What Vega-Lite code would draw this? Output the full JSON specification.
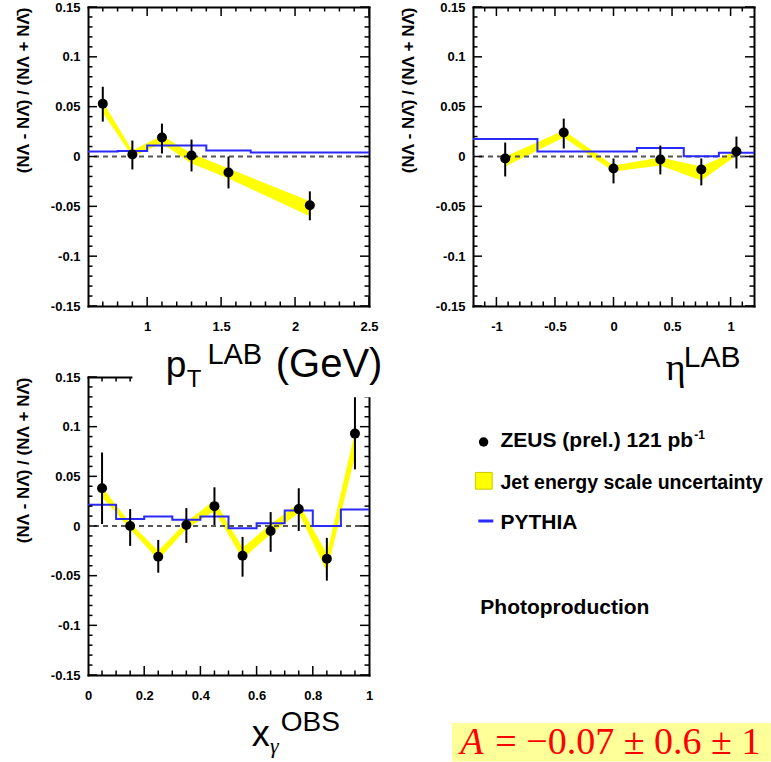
{
  "$schema": "https://vega.github.io/schema/vega-lite/v6.json",
  "autosize": {"type": "pad"},
  "padding": 0,
  "background": "white",
  "bounds": "flush",
  "columns": 2,
  "spacing": {"row": 71, "column": 104},
  "config": {
    "view": {"stroke": null},
    "axis": {
      "domain": true, "domainColor": "#000", "domainWidth": 2, "domainCap": "square",
      "ticks": false, "grid": false, "labels": false, "title": null,
      "labelFont": "Liberation Sans", "labelFontSize": 13, "labelFontWeight": "bold", "labelColor": "#000",
      "labelFlush": false, "labelOverlap": false, "labelBound": false,
      "titleFont": "Liberation Sans", "titleFontSize": 17, "titleFontWeight": "bold", "titleColor": "#000",
      "zindex": 0
    }
  },
  "datasets": {
    "pt": [
      {"pt": 0.7, "a": 0.053, "lo": 0.035, "hi": 0.070, "blo": 0.044, "bhi": 0.055},
      {"pt": 0.9, "a": 0.002, "lo": -0.013, "hi": 0.016, "blo": 0.000, "bhi": 0.006},
      {"pt": 1.1, "a": 0.019, "lo": 0.003, "hi": 0.033, "blo": 0.013, "bhi": 0.021},
      {"pt": 1.3, "a": 0.001, "lo": -0.015, "hi": 0.017, "blo": -0.007, "bhi": 0.003},
      {"pt": 1.55, "a": -0.016, "lo": -0.032, "hi": 0.000, "blo": -0.022, "bhi": -0.012},
      {"pt": 2.1, "a": -0.049, "lo": -0.064, "hi": -0.035, "blo": -0.060, "bhi": -0.045}
    ],
    "pt_mc": [
      {"edge": 0.6, "a": 0.005},
      {"edge": 0.8, "a": 0.0055},
      {"edge": 1.0, "a": 0.011},
      {"edge": 1.2, "a": 0.011},
      {"edge": 1.4, "a": 0.006},
      {"edge": 1.7, "a": 0.004},
      {"edge": 2.5, "a": 0.004}
    ],
    "eta": [
      {"eta": -0.925, "a": -0.002, "lo": -0.020, "hi": 0.014, "blo": -0.010, "bhi": 0.000},
      {"eta": -0.425, "a": 0.024, "lo": 0.008, "hi": 0.038, "blo": 0.019, "bhi": 0.026},
      {"eta": 0.0, "a": -0.012, "lo": -0.027, "hi": -0.002, "blo": -0.015, "bhi": -0.009},
      {"eta": 0.4, "a": -0.003, "lo": -0.018, "hi": 0.011, "blo": -0.009, "bhi": -0.001},
      {"eta": 0.75, "a": -0.013, "lo": -0.029, "hi": -0.002, "blo": -0.024, "bhi": -0.010},
      {"eta": 1.05, "a": 0.005, "lo": -0.012, "hi": 0.020, "blo": 0.001, "bhi": 0.006}
    ],
    "eta_mc": [
      {"edge": -1.2, "a": 0.0175},
      {"edge": -0.65, "a": 0.005},
      {"edge": -0.2, "a": 0.005},
      {"edge": 0.2, "a": 0.0085},
      {"edge": 0.6, "a": 0.0003},
      {"edge": 0.9, "a": 0.0037},
      {"edge": 1.2, "a": 0.0037}
    ],
    "xg": [
      {"xg": 0.05, "a": 0.038, "lo": 0.002, "hi": 0.074, "blo": 0.029, "bhi": 0.039},
      {"xg": 0.15, "a": 0.000, "lo": -0.020, "hi": 0.017, "blo": -0.003, "bhi": 0.003},
      {"xg": 0.25, "a": -0.031, "lo": -0.047, "hi": -0.014, "blo": -0.034, "bhi": -0.025},
      {"xg": 0.35, "a": 0.001, "lo": -0.017, "hi": 0.018, "blo": -0.003, "bhi": 0.004},
      {"xg": 0.45, "a": 0.020, "lo": 0.001, "hi": 0.039, "blo": 0.015, "bhi": 0.026},
      {"xg": 0.55, "a": -0.030, "lo": -0.051, "hi": -0.011, "blo": -0.033, "bhi": -0.022},
      {"xg": 0.65, "a": -0.005, "lo": -0.026, "hi": 0.014, "blo": -0.008, "bhi": 0.002},
      {"xg": 0.75, "a": 0.017, "lo": -0.005, "hi": 0.038, "blo": 0.013, "bhi": 0.023},
      {"xg": 0.85, "a": -0.033, "lo": -0.055, "hi": -0.012, "blo": -0.046, "bhi": -0.028},
      {"xg": 0.95, "a": 0.093, "lo": 0.057, "hi": 0.131, "blo": 0.070, "bhi": 0.095}
    ],
    "xg_mc": [
      {"edge": 0.0, "a": 0.0215},
      {"edge": 0.1, "a": 0.007},
      {"edge": 0.2, "a": 0.0095},
      {"edge": 0.3, "a": 0.0062},
      {"edge": 0.4, "a": 0.0095},
      {"edge": 0.5, "a": -0.0023},
      {"edge": 0.6, "a": 0.0028},
      {"edge": 0.7, "a": 0.0156},
      {"edge": 0.8, "a": 0.0},
      {"edge": 0.9, "a": 0.0166},
      {"edge": 1.0, "a": 0.0166}
    ],
    "y_major": [{"v": -0.15}, {"v": -0.1}, {"v": -0.05}, {"v": 0}, {"v": 0.05}, {"v": 0.1}, {"v": 0.15}],
    "y_minor": [
      {"v": -0.14}, {"v": -0.13}, {"v": -0.12}, {"v": -0.11}, {"v": -0.09}, {"v": -0.08}, {"v": -0.07}, {"v": -0.06},
      {"v": -0.04}, {"v": -0.03}, {"v": -0.02}, {"v": -0.01}, {"v": 0.01}, {"v": 0.02}, {"v": 0.03}, {"v": 0.04},
      {"v": 0.06}, {"v": 0.07}, {"v": 0.08}, {"v": 0.09}, {"v": 0.11}, {"v": 0.12}, {"v": 0.13}, {"v": 0.14}
    ],
    "pt_major": [{"v": 1}, {"v": 1.5}, {"v": 2}, {"v": 2.5}],
    "pt_minor": [
      {"v": 0.7}, {"v": 0.8}, {"v": 0.9}, {"v": 1.1}, {"v": 1.2}, {"v": 1.3}, {"v": 1.4}, {"v": 1.6},
      {"v": 1.7}, {"v": 1.8}, {"v": 1.9}, {"v": 2.1}, {"v": 2.2}, {"v": 2.3}, {"v": 2.4}
    ],
    "eta_major": [{"v": -1}, {"v": -0.5}, {"v": 0}, {"v": 0.5}, {"v": 1}],
    "eta_minor": [
      {"v": -1.1}, {"v": -0.9}, {"v": -0.8}, {"v": -0.7}, {"v": -0.6}, {"v": -0.4}, {"v": -0.3}, {"v": -0.2},
      {"v": -0.1}, {"v": 0.1}, {"v": 0.2}, {"v": 0.3}, {"v": 0.4}, {"v": 0.6}, {"v": 0.7}, {"v": 0.8}, {"v": 0.9}, {"v": 1.1}
    ],
    "xg_major": [{"v": 0.2}, {"v": 0.4}, {"v": 0.6}, {"v": 0.8}],
    "xg_minor": [
      {"v": 0.05}, {"v": 0.1}, {"v": 0.15}, {"v": 0.25}, {"v": 0.3}, {"v": 0.35}, {"v": 0.45}, {"v": 0.5},
      {"v": 0.55}, {"v": 0.65}, {"v": 0.7}, {"v": 0.75}, {"v": 0.85}, {"v": 0.9}, {"v": 0.95}
    ]
  },
  "concat": [
    {
      "width": 281, "height": 299,
      "resolve": {"axis": {"x": "independent", "y": "independent"}},
      "layer": [
        {
          "data": {"values": [{}]},
          "mark": {"type": "rect", "opacity": 0},
          "encoding": {
            "x": {"datum": 0.01174, "type": "quantitative", "scale": {"domain": [0.6, 2.5], "nice": false, "zero": false}, "axis": null},
            "x2": {"datum": 0.02},
            "y": {"datum": 0.15702, "type": "quantitative", "scale": {"domain": [-0.15, 0.15], "nice": false, "zero": false}, "axis": null},
            "y2": {"datum": 0.155}
          }
        },
        {
          "data": {"name": "pt"},
          "mark": {"type": "area", "color": "#ffff00", "opacity": 1},
          "encoding": {
            "x": {"field": "pt", "type": "quantitative", "axis": null},
            "y": {"field": "blo", "type": "quantitative", "axis": null},
            "y2": {"field": "bhi"}
          }
        },
        {
          "data": {"values": [{}]},
          "mark": {"type": "rule", "color": "#555555", "strokeWidth": 2, "strokeDash": [5, 4]},
          "encoding": {"y": {"datum": 0, "type": "quantitative", "axis": null}}
        },
        {
          "data": {"name": "pt_mc"},
          "mark": {"type": "line", "interpolate": "step-after", "color": "#2a2aff", "strokeWidth": 2},
          "encoding": {
            "x": {"field": "edge", "type": "quantitative", "axis": null},
            "y": {"field": "a", "type": "quantitative", "axis": null}
          }
        },
        {
          "data": {"name": "pt"},
          "mark": {"type": "rule", "color": "#000", "strokeWidth": 2},
          "encoding": {
            "x": {"field": "pt", "type": "quantitative", "axis": null},
            "y": {"field": "lo", "type": "quantitative", "axis": null},
            "y2": {"field": "hi"}
          }
        },
        {
          "data": {"name": "pt"},
          "mark": {"type": "circle", "color": "#000", "size": 100, "opacity": 1},
          "encoding": {
            "x": {"field": "pt", "type": "quantitative",
              "axis": {"orient": "bottom", "values": [1, 1.5, 2, 2.5], "labels": true,
                "labelExpr": "replace(format(datum.value, ''), '\u2212', '-')", "labelPadding": 14}},
            "y": {"field": "a", "type": "quantitative",
              "axis": {"orient": "left", "values": [-0.15,-0.1,-0.05,0,0.05,0.1,0.15], "labels": true,
                "labelExpr": "replace(format(datum.value, ''), '\u2212', '-')", "labelPadding": 8,
                "title": "(N\u039b - N\u039b\u0304) / (N\u039b + N\u039b\u0304)", "titleAnchor": "end", "titlePadding": 18}}
          }
        },
        {
          "data": {"name": "pt"},
          "mark": {"type": "point", "opacity": 0},
          "encoding": {
            "x": {"field": "pt", "type": "quantitative", "axis": {"orient": "top"}},
            "y": {"field": "a", "type": "quantitative", "axis": {"orient": "right"}}
          }
        },
        {
          "data": {"name": "y_major"},
          "mark": {"type": "rule", "color": "#000", "strokeWidth": 1.5},
          "encoding": {
            "y": {"field": "v", "type": "quantitative", "axis": null},
            "x": {"datum": 0.6, "type": "quantitative", "axis": null},
            "x2": {"datum": 0.6609}
          }
        },
        {
          "data": {"name": "y_minor"},
          "mark": {"type": "rule", "color": "#000", "strokeWidth": 1.5},
          "encoding": {
            "y": {"field": "v", "type": "quantitative", "axis": null},
            "x": {"datum": 0.6, "type": "quantitative", "axis": null},
            "x2": {"datum": 0.6304}
          }
        },
        {
          "data": {"name": "y_major"},
          "mark": {"type": "rule", "color": "#000", "strokeWidth": 1.5},
          "encoding": {
            "y": {"field": "v", "type": "quantitative", "axis": null},
            "x": {"datum": 2.5, "type": "quantitative", "axis": null},
            "x2": {"datum": 2.4391}
          }
        },
        {
          "data": {"name": "y_minor"},
          "mark": {"type": "rule", "color": "#000", "strokeWidth": 1.5},
          "encoding": {
            "y": {"field": "v", "type": "quantitative", "axis": null},
            "x": {"datum": 2.5, "type": "quantitative", "axis": null},
            "x2": {"datum": 2.4696}
          }
        },
        {
          "data": {"name": "pt_major"},
          "mark": {"type": "rule", "color": "#000", "strokeWidth": 1.5},
          "encoding": {
            "x": {"field": "v", "type": "quantitative", "axis": null},
            "y": {"datum": -0.15, "type": "quantitative", "axis": null},
            "y2": {"datum": -0.14097}
          }
        },
        {
          "data": {"name": "pt_minor"},
          "mark": {"type": "rule", "color": "#000", "strokeWidth": 1.5},
          "encoding": {
            "x": {"field": "v", "type": "quantitative", "axis": null},
            "y": {"datum": -0.15, "type": "quantitative", "axis": null},
            "y2": {"datum": -0.14549}
          }
        },
        {
          "data": {"name": "pt_major"},
          "mark": {"type": "rule", "color": "#000", "strokeWidth": 1.5},
          "encoding": {
            "x": {"field": "v", "type": "quantitative", "axis": null},
            "y": {"datum": 0.15, "type": "quantitative", "axis": null},
            "y2": {"datum": 0.14097}
          }
        },
        {
          "data": {"name": "pt_minor"},
          "mark": {"type": "rule", "color": "#000", "strokeWidth": 1.5},
          "encoding": {
            "x": {"field": "v", "type": "quantitative", "axis": null},
            "y": {"datum": 0.15, "type": "quantitative", "axis": null},
            "y2": {"datum": 0.14549}
          }
        }
      ]
    },
    {
      "width": 281, "height": 299,
      "resolve": {"axis": {"x": "independent", "y": "independent"}},
      "layer": [
        {
          "data": {"name": "eta"},
          "mark": {"type": "area", "color": "#ffff00", "opacity": 1},
          "encoding": {
            "x": {"field": "eta", "type": "quantitative", "scale": {"domain": [-1.2, 1.2], "nice": false, "zero": false}, "axis": null},
            "y": {"field": "blo", "type": "quantitative", "scale": {"domain": [-0.15, 0.15], "nice": false, "zero": false}, "axis": null},
            "y2": {"field": "bhi"}
          }
        },
        {
          "data": {"values": [{}]},
          "mark": {"type": "rule", "color": "#555555", "strokeWidth": 2, "strokeDash": [5, 4]},
          "encoding": {"y": {"datum": 0, "type": "quantitative", "axis": null}}
        },
        {
          "data": {"name": "eta_mc"},
          "mark": {"type": "line", "interpolate": "step-after", "color": "#2a2aff", "strokeWidth": 2},
          "encoding": {
            "x": {"field": "edge", "type": "quantitative", "axis": null},
            "y": {"field": "a", "type": "quantitative", "axis": null}
          }
        },
        {
          "data": {"name": "eta"},
          "mark": {"type": "rule", "color": "#000", "strokeWidth": 2},
          "encoding": {
            "x": {"field": "eta", "type": "quantitative", "axis": null},
            "y": {"field": "lo", "type": "quantitative", "axis": null},
            "y2": {"field": "hi"}
          }
        },
        {
          "data": {"name": "eta"},
          "mark": {"type": "circle", "color": "#000", "size": 100, "opacity": 1},
          "encoding": {
            "x": {"field": "eta", "type": "quantitative",
              "axis": {"orient": "bottom", "values": [-1, -0.5, 0, 0.5, 1], "labels": true,
                "labelExpr": "replace(format(datum.value, ''), '\u2212', '-')", "labelPadding": 14}},
            "y": {"field": "a", "type": "quantitative",
              "axis": {"orient": "left", "values": [-0.15,-0.1,-0.05,0,0.05,0.1,0.15], "labels": true,
                "labelExpr": "replace(format(datum.value, ''), '\u2212', '-')", "labelPadding": 8,
                "title": "(N\u039b - N\u039b\u0304) / (N\u039b + N\u039b\u0304)", "titleAnchor": "end", "titlePadding": 18}}
          }
        },
        {
          "data": {"name": "eta"},
          "mark": {"type": "point", "opacity": 0},
          "encoding": {
            "x": {"field": "eta", "type": "quantitative", "axis": {"orient": "top"}},
            "y": {"field": "a", "type": "quantitative", "axis": {"orient": "right"}}
          }
        },
        {
          "data": {"name": "y_major"},
          "mark": {"type": "rule", "color": "#000", "strokeWidth": 1.5},
          "encoding": {
            "y": {"field": "v", "type": "quantitative", "axis": null},
            "x": {"datum": -1.2, "type": "quantitative", "axis": null},
            "x2": {"datum": -1.1231}
          }
        },
        {
          "data": {"name": "y_minor"},
          "mark": {"type": "rule", "color": "#000", "strokeWidth": 1.5},
          "encoding": {
            "y": {"field": "v", "type": "quantitative", "axis": null},
            "x": {"datum": -1.2, "type": "quantitative", "axis": null},
            "x2": {"datum": -1.1616}
          }
        },
        {
          "data": {"name": "y_major"},
          "mark": {"type": "rule", "color": "#000", "strokeWidth": 1.5},
          "encoding": {
            "y": {"field": "v", "type": "quantitative", "axis": null},
            "x": {"datum": 1.2, "type": "quantitative", "axis": null},
            "x2": {"datum": 1.1231}
          }
        },
        {
          "data": {"name": "y_minor"},
          "mark": {"type": "rule", "color": "#000", "strokeWidth": 1.5},
          "encoding": {
            "y": {"field": "v", "type": "quantitative", "axis": null},
            "x": {"datum": 1.2, "type": "quantitative", "axis": null},
            "x2": {"datum": 1.1616}
          }
        },
        {
          "data": {"name": "eta_major"},
          "mark": {"type": "rule", "color": "#000", "strokeWidth": 1.5},
          "encoding": {
            "x": {"field": "v", "type": "quantitative", "axis": null},
            "y": {"datum": -0.15, "type": "quantitative", "axis": null},
            "y2": {"datum": -0.14097}
          }
        },
        {
          "data": {"name": "eta_minor"},
          "mark": {"type": "rule", "color": "#000", "strokeWidth": 1.5},
          "encoding": {
            "x": {"field": "v", "type": "quantitative", "axis": null},
            "y": {"datum": -0.15, "type": "quantitative", "axis": null},
            "y2": {"datum": -0.14549}
          }
        },
        {
          "data": {"name": "eta_major"},
          "mark": {"type": "rule", "color": "#000", "strokeWidth": 1.5},
          "encoding": {
            "x": {"field": "v", "type": "quantitative", "axis": null},
            "y": {"datum": 0.15, "type": "quantitative", "axis": null},
            "y2": {"datum": 0.14097}
          }
        },
        {
          "data": {"name": "eta_minor"},
          "mark": {"type": "rule", "color": "#000", "strokeWidth": 1.5},
          "encoding": {
            "x": {"field": "v", "type": "quantitative", "axis": null},
            "y": {"datum": 0.15, "type": "quantitative", "axis": null},
            "y2": {"datum": 0.14549}
          }
        },
        {
          "data": {"values": [{}]},
          "mark": {"type": "text", "text": "\u03b7", "font": "Liberation Serif", "fontSize": 38, "align": "left", "baseline": "alphabetic", "color": "#000"},
          "encoding": {
            "x": {"datum": 0.4465, "type": "quantitative", "axis": null},
            "y": {"datum": -0.2241, "type": "quantitative", "axis": null}
          }
        },
        {
          "data": {"values": [{}]},
          "mark": {"type": "text", "text": "LAB", "font": "Liberation Sans", "fontSize": 30, "align": "left", "baseline": "alphabetic", "color": "#000"},
          "encoding": {
            "x": {"datum": 0.6006, "type": "quantitative", "axis": null},
            "y": {"datum": -0.2108, "type": "quantitative", "axis": null}
          }
        }
      ]
    },
    {
      "width": 281, "height": 298,
      "resolve": {"axis": {"x": "independent", "y": "independent"}},
      "layer": [
        {
          "data": {"name": "xg"},
          "mark": {"type": "area", "color": "#ffff00", "opacity": 1},
          "encoding": {
            "x": {"field": "xg", "type": "quantitative", "scale": {"domain": [0, 1], "nice": false, "zero": false}, "axis": null},
            "y": {"field": "blo", "type": "quantitative", "scale": {"domain": [-0.15, 0.15], "nice": false, "zero": false}, "axis": null},
            "y2": {"field": "bhi"}
          }
        },
        {
          "data": {"values": [{}]},
          "mark": {"type": "rule", "color": "#555555", "strokeWidth": 2, "strokeDash": [5, 4]},
          "encoding": {"y": {"datum": 0, "type": "quantitative", "axis": null}}
        },
        {
          "data": {"name": "xg_mc"},
          "mark": {"type": "line", "interpolate": "step-after", "color": "#2a2aff", "strokeWidth": 2},
          "encoding": {
            "x": {"field": "edge", "type": "quantitative", "axis": null},
            "y": {"field": "a", "type": "quantitative", "axis": null}
          }
        },
        {
          "data": {"name": "xg"},
          "mark": {"type": "rule", "color": "#000", "strokeWidth": 2},
          "encoding": {
            "x": {"field": "xg", "type": "quantitative", "axis": null},
            "y": {"field": "lo", "type": "quantitative", "axis": null},
            "y2": {"field": "hi"}
          }
        },
        {
          "data": {"name": "xg"},
          "mark": {"type": "circle", "color": "#000", "size": 100, "opacity": 1},
          "encoding": {
            "x": {"field": "xg", "type": "quantitative",
              "axis": {"orient": "bottom", "values": [0, 0.2, 0.4, 0.6, 0.8, 1], "labels": true,
                "labelExpr": "replace(format(datum.value, ''), '\u2212', '-')", "labelPadding": 14}},
            "y": {"field": "a", "type": "quantitative",
              "axis": {"orient": "left", "values": [-0.15,-0.1,-0.05,0,0.05,0.1,0.15], "labels": true,
                "labelExpr": "replace(format(datum.value, ''), '\u2212', '-')", "labelPadding": 8,
                "title": "(N\u039b - N\u039b\u0304) / (N\u039b + N\u039b\u0304)", "titleAnchor": "end", "titlePadding": 18}}
          }
        },
        {
          "data": {"name": "xg"},
          "mark": {"type": "point", "opacity": 0},
          "encoding": {
            "x": {"field": "xg", "type": "quantitative", "axis": {"orient": "top"}},
            "y": {"field": "a", "type": "quantitative", "axis": {"orient": "right"}}
          }
        },
        {
          "data": {"name": "y_major"},
          "mark": {"type": "rule", "color": "#000", "strokeWidth": 1.5},
          "encoding": {
            "y": {"field": "v", "type": "quantitative", "axis": null},
            "x": {"datum": 0, "type": "quantitative", "axis": null},
            "x2": {"datum": 0.032}
          }
        },
        {
          "data": {"name": "y_minor"},
          "mark": {"type": "rule", "color": "#000", "strokeWidth": 1.5},
          "encoding": {
            "y": {"field": "v", "type": "quantitative", "axis": null},
            "x": {"datum": 0, "type": "quantitative", "axis": null},
            "x2": {"datum": 0.016}
          }
        },
        {
          "data": {"name": "y_major"},
          "mark": {"type": "rule", "color": "#000", "strokeWidth": 1.5},
          "encoding": {
            "y": {"field": "v", "type": "quantitative", "axis": null},
            "x": {"datum": 1, "type": "quantitative", "axis": null},
            "x2": {"datum": 0.968}
          }
        },
        {
          "data": {"name": "y_minor"},
          "mark": {"type": "rule", "color": "#000", "strokeWidth": 1.5},
          "encoding": {
            "y": {"field": "v", "type": "quantitative", "axis": null},
            "x": {"datum": 1, "type": "quantitative", "axis": null},
            "x2": {"datum": 0.984}
          }
        },
        {
          "data": {"name": "xg_major"},
          "mark": {"type": "rule", "color": "#000", "strokeWidth": 1.5},
          "encoding": {
            "x": {"field": "v", "type": "quantitative", "axis": null},
            "y": {"datum": -0.15, "type": "quantitative", "axis": null},
            "y2": {"datum": -0.14094}
          }
        },
        {
          "data": {"name": "xg_minor"},
          "mark": {"type": "rule", "color": "#000", "strokeWidth": 1.5},
          "encoding": {
            "x": {"field": "v", "type": "quantitative", "axis": null},
            "y": {"datum": -0.15, "type": "quantitative", "axis": null},
            "y2": {"datum": -0.14547}
          }
        },
        {
          "data": {"name": "xg_major"},
          "mark": {"type": "rule", "color": "#000", "strokeWidth": 1.5},
          "encoding": {
            "x": {"field": "v", "type": "quantitative", "axis": null},
            "y": {"datum": 0.15, "type": "quantitative", "axis": null},
            "y2": {"datum": 0.14094}
          }
        },
        {
          "data": {"name": "xg_minor"},
          "mark": {"type": "rule", "color": "#000", "strokeWidth": 1.5},
          "encoding": {
            "x": {"field": "v", "type": "quantitative", "axis": null},
            "y": {"datum": 0.15, "type": "quantitative", "axis": null},
            "y2": {"datum": 0.14547}
          }
        },
        {
          "data": {"values": [{}]},
          "mark": {"type": "rect", "color": "#ffffff", "opacity": 1},
          "encoding": {
            "x": {"datum": 0.158, "type": "quantitative", "axis": null},
            "x2": {"datum": 1.05},
            "y": {"datum": 0.1296, "type": "quantitative", "axis": null},
            "y2": {"datum": 0.19}
          }
        },
        {
          "data": {"values": [{}]},
          "mark": {"type": "text", "text": "p", "font": "Liberation Sans", "fontSize": 37, "align": "left", "baseline": "alphabetic", "color": "#000"},
          "encoding": {
            "x": {"datum": 0.2765, "type": "quantitative", "axis": null},
            "y": {"datum": 0.15, "type": "quantitative", "axis": null}
          }
        },
        {
          "data": {"values": [{}]},
          "mark": {"type": "text", "text": "T", "font": "Liberation Sans", "fontSize": 24, "align": "left", "baseline": "alphabetic", "color": "#000"},
          "encoding": {
            "x": {"datum": 0.3515, "type": "quantitative", "axis": null},
            "y": {"datum": 0.1399, "type": "quantitative", "axis": null}
          }
        },
        {
          "data": {"values": [{}]},
          "mark": {"type": "text", "text": "LAB", "font": "Liberation Sans", "fontSize": 29, "align": "left", "baseline": "alphabetic", "color": "#000"},
          "encoding": {
            "x": {"datum": 0.4249, "type": "quantitative", "axis": null},
            "y": {"datum": 0.1635, "type": "quantitative", "axis": null}
          }
        },
        {
          "data": {"values": [{}]},
          "mark": {"type": "text", "text": "(GeV)", "font": "Liberation Sans", "fontSize": 40, "align": "left", "baseline": "alphabetic", "color": "#000"},
          "encoding": {
            "x": {"datum": 0.668, "type": "quantitative", "axis": null},
            "y": {"datum": 0.15, "type": "quantitative", "axis": null}
          }
        },
        {
          "data": {"values": [{}]},
          "mark": {"type": "text", "text": "x", "font": "Liberation Sans", "fontSize": 36, "align": "left", "baseline": "alphabetic", "color": "#000"},
          "encoding": {
            "x": {"datum": 0.5826, "type": "quantitative", "axis": null},
            "y": {"datum": -0.2214, "type": "quantitative", "axis": null}
          }
        },
        {
          "data": {"values": [{}]},
          "mark": {"type": "text", "text": "\u03b3", "font": "Liberation Serif", "fontSize": 22, "fontStyle": "italic", "align": "left", "baseline": "alphabetic", "color": "#000"},
          "encoding": {
            "x": {"datum": 0.648, "type": "quantitative", "axis": null},
            "y": {"datum": -0.2285, "type": "quantitative", "axis": null}
          }
        },
        {
          "data": {"values": [{}]},
          "mark": {"type": "text", "text": "OBS", "font": "Liberation Sans", "fontSize": 28, "align": "left", "baseline": "alphabetic", "color": "#000"},
          "encoding": {
            "x": {"datum": 0.6858, "type": "quantitative", "axis": null},
            "y": {"datum": -0.2063, "type": "quantitative", "axis": null}
          }
        }
      ]
    },
    {
      "width": 281, "height": 298,
      "view": {"stroke": null},
      "layer": [
        {
          "data": {"values": [{}]},
          "mark": {"type": "rect", "color": "#ffff99", "opacity": 1},
          "encoding": {
            "x": {"datum": -0.0747, "type": "quantitative", "scale": {"domain": [0, 1], "nice": false, "zero": false}, "axis": null},
            "x2": {"datum": 1.06},
            "y": {"datum": -0.1611, "type": "quantitative", "scale": {"domain": [0, 1], "nice": false, "zero": false}, "axis": null},
            "y2": {"datum": -0.29}
          }
        },
        {
          "data": {"values": [{}]},
          "mark": {"type": "text", "text": "A", "font": "Liberation Serif", "fontSize": 38, "fontStyle": "italic", "align": "left", "baseline": "alphabetic", "color": "#ff0000"},
          "encoding": {
            "x": {"datum": -0.0452, "type": "quantitative", "axis": null},
            "y": {"datum": -0.2661, "type": "quantitative", "axis": null}
          }
        },
        {
          "data": {"values": [{}]},
          "mark": {"type": "text", "text": "= \u22120.07 \u00b1 0.6 \u00b1 1", "font": "Liberation Serif", "fontSize": 38, "align": "left", "baseline": "alphabetic", "color": "#ff0000"},
          "encoding": {
            "x": {"datum": 0.0794, "type": "quantitative", "axis": null},
            "y": {"datum": -0.2661, "type": "quantitative", "axis": null}
          }
        },
        {
          "data": {"values": [{}]},
          "mark": {"type": "circle", "color": "#000", "size": 90, "opacity": 1},
          "encoding": {
            "x": {"datum": 0.0377, "type": "quantitative", "axis": null},
            "y": {"datum": 0.7819, "type": "quantitative", "axis": null}
          }
        },
        {
          "data": {"values": [{}]},
          "mark": {"type": "text", "text": "ZEUS (prel.) 121 pb", "font": "Liberation Sans", "fontSize": 21, "fontWeight": "bold", "align": "left", "baseline": "alphabetic", "color": "#000"},
          "encoding": {
            "x": {"datum": 0.0979, "type": "quantitative", "axis": null},
            "y": {"datum": 0.7651, "type": "quantitative", "axis": null}
          }
        },
        {
          "data": {"values": [{}]},
          "mark": {"type": "text", "text": "-1", "font": "Liberation Sans", "fontSize": 12, "fontWeight": "bold", "align": "left", "baseline": "alphabetic", "color": "#000"},
          "encoding": {
            "x": {"datum": 0.7875, "type": "quantitative", "axis": null},
            "y": {"datum": 0.7909, "type": "quantitative", "axis": null}
          }
        },
        {
          "data": {"values": [{}]},
          "mark": {"type": "square", "filled": true, "fill": "#ffff00", "stroke": "#c8c800", "strokeWidth": 1, "size": 280, "opacity": 1},
          "encoding": {
            "x": {"datum": 0.0384, "type": "quantitative", "axis": null},
            "y": {"datum": 0.6517, "type": "quantitative", "axis": null}
          }
        },
        {
          "data": {"values": [{}]},
          "mark": {"type": "text", "text": "Jet energy scale uncertainty", "font": "Liberation Sans", "fontSize": 19.5, "fontWeight": "bold", "align": "left", "baseline": "alphabetic", "color": "#000"},
          "encoding": {
            "x": {"datum": 0.0979, "type": "quantitative", "axis": null},
            "y": {"datum": 0.6255, "type": "quantitative", "axis": null}
          }
        },
        {
          "data": {"values": [{}]},
          "mark": {"type": "rule", "color": "#2a2aff", "strokeWidth": 3},
          "encoding": {
            "x": {"datum": 0.0189, "type": "quantitative", "axis": null},
            "x2": {"datum": 0.0723},
            "y": {"datum": 0.5168, "type": "quantitative", "axis": null}
          }
        },
        {
          "data": {"values": [{}]},
          "mark": {"type": "text", "text": "PYTHIA", "font": "Liberation Sans", "fontSize": 21, "fontWeight": "bold", "align": "left", "baseline": "alphabetic", "color": "#000"},
          "encoding": {
            "x": {"datum": 0.0979, "type": "quantitative", "axis": null},
            "y": {"datum": 0.4913, "type": "quantitative", "axis": null}
          }
        },
        {
          "data": {"values": [{}]},
          "mark": {"type": "text", "text": "Photoproduction", "font": "Liberation Sans", "fontSize": 21, "fontWeight": "bold", "align": "left", "baseline": "alphabetic", "color": "#000"},
          "encoding": {
            "x": {"datum": 0.026, "type": "quantitative", "axis": null},
            "y": {"datum": 0.206, "type": "quantitative", "axis": null}
          }
        }
      ]
    }
  ]
}
